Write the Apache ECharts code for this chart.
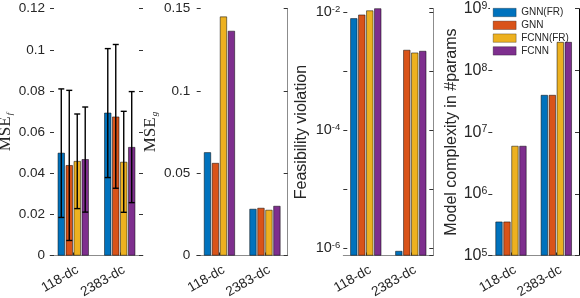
<!DOCTYPE html>
<html><head><meta charset="utf-8">
<script src="https://cdn.jsdelivr.net/npm/echarts@6/dist/echarts.min.js"></script>
<style>html,body{margin:0;padding:0;background:#fff}#c{width:580px;height:298px}</style>
</head><body><div id="c"></div>
<script>
// ---------- data ----------
const categories = ['118-dc', '2383-dc'];
const seriesNames = ['GNN(FR)', 'GNN', 'FCNN(FR)', 'FCNN'];
const colors = ['#0072BD', '#D95319', '#EDB120', '#7E2F8E'];

// Panel 1: MSE_f (bar = mean) and error-bar limits, one row per series, [118-dc, 2383-dc]
const mseF     = [[0.0499, 0.0694], [0.0439, 0.0675], [0.0459, 0.0455], [0.0468, 0.0527]];
const mseFLow  = [[0.0185, 0.0379], [0.0073, 0.0327], [0.0228, 0.0210], [0.0211, 0.0257]];
const mseFHigh = [[0.0810, 0.1006], [0.0803, 0.1026], [0.0688, 0.0701], [0.0722, 0.0797]];
// Panel 2: MSE_g
const mseG = [[0.0627, 0.0283], [0.0562, 0.0289], [0.1452, 0.0277], [0.1365, 0.0301]];
// Panel 3: feasibility violation (log)
const feasViol = [[7.8e-3, 8.8e-7], [9.0e-3, 2.27e-3], [1.06e-2, 2.04e-3], [1.2e-2, 2.18e-3]];
// Panel 4: model complexity in #params (log)
const nParams = [[3.53e5, 3.99e7], [3.53e5, 3.99e7], [5.96e6, 2.88e8], [5.96e6, 2.88e8]];

// axis settings
const yMin = [0, 0, 7.39e-7, 1e5];
const yMax = [0.12, 0.15, 1.138e-2, 1e9];
const yInterval = [0.02, 0.05, null, null];

// ---------- layout / style ----------
const FONT = 'Liberation Sans, Arial, sans-serif';
const SERIF = 'Liberation Serif, Times New Roman, serif';
const TXT = '#262626';
const TOP = 8.7, HEIGHT = 246.8;
const gridPos = [[50, 93], [196.7, 91], [343.3, 90], [488.3, 90.7]];
const BAR_W = 7, BAR_PITCH = 7.98, CAP = 3;

const panelData = [mseF, mseG, feasViol, nParams];

const grids = gridPos.map(g => ({left: g[0], width: g[1], top: TOP, height: HEIGHT,
  containLabel: false, outerBoundsMode: 'none'}));

const xAxes = gridPos.map((g, i) => ({
  type: 'category', gridIndex: i, data: categories,
  axisLine: {show: true, lineStyle: {color: '#8c8c8c', width: 1}},
  axisTick: {show: true, inside: true, alignWithLabel: true, length: 3, lineStyle: {color: '#333'}},
  axisLabel: {rotate: 30, fontSize: 13.5, fontFamily: FONT, color: TXT, margin: 16, padding: [0, -5, 0, 0]},
  splitLine: {show: false}
}));

function logLabel(step, fs, sfs) {
  return {
    formatter: v => {
      const l = Math.log10(v), e = Math.round(l);
      if (Math.abs(l - e) > 1e-6 || e % step !== 0) return '';
      return '{b|10}{e|' + e + '}';
    },
    rich: {
      b: {fontSize: fs, fontFamily: FONT, color: TXT, verticalAlign: 'bottom'},
      e: {fontSize: sfs, fontFamily: FONT, color: TXT, verticalAlign: 'top'}
    }
  };
}

const yNames = [
  {name: '{m|MSE}{s|f}', gap: 36},
  {name: '{m|MSE}{s|g}', gap: 38},
  {name: 'Feasibility violation', gap: 33.6},
  {name: 'Model complexity in #params', gap: 29}
];

const leftY = [0, 1, 2, 3].map(i => {
  const isLog = i >= 2;
  const ax = {
    type: isLog ? 'log' : 'value', logBase: 10, gridIndex: i, position: 'left',
    min: yMin[i], max: yMax[i],
    axisLine: {show: false},
    axisTick: {show: true, inside: true, length: 4, lineStyle: {color: '#333'}},
    splitLine: {show: false},
    name: yNames[i].name, nameLocation: 'middle', nameGap: yNames[i].gap,
    nameTextStyle: i < 2 ? {
      rich: {
        m: {fontFamily: SERIF, fontSize: 17, color: TXT, verticalAlign: 'bottom'},
        s: {fontFamily: SERIF, fontStyle: 'italic', fontSize: 9, color: TXT, verticalAlign: 'bottom', padding: [0, 0, 0, 1]}
      }
    } : {fontFamily: FONT, fontSize: 16, color: TXT}
  };
  if (yInterval[i] != null) ax.interval = yInterval[i];
  if (isLog) {
    ax.startValue = yMin[i];
    ax.axisLabel = Object.assign({margin: i === 2 ? 3 : 1, showMinLabel: i === 3, showMaxLabel: i === 3},
      i === 2 ? logLabel(2, 14.5, 9.5) : logLabel(1, 16, 10.5));
  } else {
    ax.axisLabel = {fontSize: 13.5, fontFamily: FONT, color: TXT, margin: i === 0 ? 5 : 6.5};
  }
  return ax;
});

const rightY = [0, 1, 2, 3].map(i => {
  const isLog = i >= 2;
  const ax = {
    type: isLog ? 'log' : 'value', logBase: 10, gridIndex: i, position: 'right',
    min: yMin[i], max: yMax[i],
    axisLine: {show: i > 0, lineStyle: {color: i === 3 ? '#000' : '#8c8c8c', width: 1}},
    axisTick: {show: true, inside: true, length: 4, lineStyle: {color: '#333'}},
    axisLabel: {show: false},
    splitLine: {show: false}
  };
  if (yInterval[i] != null) ax.interval = yInterval[i];
  return ax;
});

const series = [];
panelData.forEach((pd, p) => {
  pd.forEach((vals, s) => {
    series.push({
      type: 'bar', name: seriesNames[s], xAxisIndex: p, yAxisIndex: p,
      data: vals, barWidth: BAR_W, barGap: '14%',
      itemStyle: {color: colors[s], borderColor: '#000', borderWidth: 0.5},
      emphasis: {disabled: true}, clip: true
    });
  });
});

// error bars for panel 1
const errData = [];
seriesNames.forEach((n, s) => {
  categories.forEach((c, ci) => errData.push([ci, mseFLow[s][ci], mseFHigh[s][ci], s]));
});
series.push({
  type: 'custom', xAxisIndex: 0, yAxisIndex: 0, z: 5, silent: true,
  data: errData, encode: {x: 0, y: [1, 2]},
  renderItem: (params, api) => {
    const c = api.value(0), lo = api.value(1), hi = api.value(2), s = api.value(3);
    const a = api.coord([c, lo]), b = api.coord([c, hi]);
    const x = a[0] + (s - 1.5) * BAR_PITCH;
    const st = {stroke: '#000', lineWidth: 1.4};
    return {type: 'group', children: [
      {type: 'line', shape: {x1: x, y1: a[1], x2: x, y2: b[1]}, style: st},
      {type: 'line', shape: {x1: x - CAP, y1: a[1], x2: x + CAP, y2: a[1]}, style: st},
      {type: 'line', shape: {x1: x - CAP, y1: b[1], x2: x + CAP, y2: b[1]}, style: st}
    ]};
  }
});

const option = {
  animation: false,
  color: colors,
  grid: grids,
  xAxis: xAxes,
  yAxis: leftY.concat(rightY),
  legend: {
    data: seriesNames, orient: 'vertical', left: 490, top: 3.5,
    itemWidth: 23, itemHeight: 8.4, itemGap: 2.8, icon: 'rect',
    backgroundColor: '#fff', padding: [4, 3, 4, 3], z: 1,
    itemStyle: {borderWidth: 0.3},
    textStyle: {fontSize: 10, lineHeight: 10, fontFamily: FONT, color: TXT},
    selectedMode: false
  },
  series: series
};

const chart = echarts.init(document.getElementById('c'), null, {renderer: 'canvas'});
chart.setOption(option);
</script></body></html>
